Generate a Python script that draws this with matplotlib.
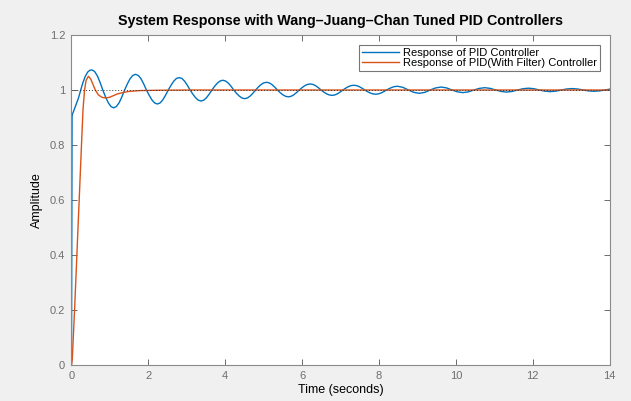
import matplotlib.pyplot as plt

# Response of PID controller
t_pid = [0.0, 0.015, 0.02, 0.1, 0.18, 0.24, 0.3, 0.36, 0.42, 0.48,
         0.530, 0.601, 0.672, 0.743, 0.814, 0.885, 0.956, 1.027,
         1.098, 1.169, 1.240, 1.311, 1.382, 1.453, 1.524, 1.595,
         1.666, 1.737, 1.808, 1.879, 1.950, 2.021, 2.092, 2.163,
         2.234, 2.305, 2.376, 2.447, 2.518, 2.589, 2.660, 2.731,
         2.802, 2.873, 2.944, 3.015, 3.086, 3.157, 3.228, 3.299,
         3.370, 3.441, 3.512, 3.583, 3.654, 3.725, 3.796, 3.867,
         3.938, 4.009, 4.080, 4.151, 4.222, 4.293, 4.364, 4.435,
         4.506, 4.577, 4.648, 4.719, 4.790, 4.861, 4.932, 5.003,
         5.074, 5.145, 5.216, 5.287, 5.358, 5.429, 5.500, 5.571,
         5.642, 5.713, 5.784, 5.855, 5.926, 5.997, 6.068, 6.139,
         6.210, 6.281, 6.352, 6.423, 6.494, 6.565, 6.636, 6.707,
         6.778, 6.849, 6.920, 6.991, 7.062, 7.133, 7.204, 7.275,
         7.346, 7.417, 7.488, 7.559, 7.630, 7.701, 7.772, 7.843,
         7.914, 7.985, 8.056, 8.127, 8.198, 8.269, 8.340, 8.411,
         8.482, 8.624, 8.766, 8.908, 9.050, 9.192, 9.334, 9.476,
         9.618, 9.760, 9.902, 10.044, 10.186, 10.328, 10.470, 10.612,
         10.754, 10.896, 11.038, 11.180, 11.322, 11.464, 11.606, 11.748,
         11.890, 12.032, 12.174, 12.316, 12.458, 12.600, 12.742, 12.884,
         13.026, 13.168, 13.310, 13.452, 13.594, 13.736, 13.878, 14.0]
y_pid = [0.0, 0.90, 0.91, 0.94, 0.97, 1.0, 1.028, 1.05, 1.065, 1.072,
         1.073, 1.0675, 1.0516, 1.028, 1.0, 0.975, 0.954, 0.940,
         0.935, 0.940, 0.954, 0.975, 1.0, 1.022, 1.041, 1.053,
         1.057, 1.053, 1.041, 1.022, 1.0, 0.981, 0.964, 0.953,
         0.949, 0.953, 0.964, 0.981, 1.0, 1.017, 1.032, 1.042,
         1.045, 1.042, 1.032, 1.017, 1.0, 0.985, 0.972, 0.963,
         0.960, 0.963, 0.972, 0.985, 1.0, 1.0136, 1.0251, 1.0328,
         1.0355, 1.0328, 1.0251, 1.0136, 1.0, 0.988, 0.978, 0.971,
         0.9685, 0.971, 0.978, 0.988, 1.0, 1.0107, 1.0198, 1.0259,
         1.028, 1.0259, 1.0198, 1.0107, 1.0, 0.9905, 0.9825, 0.9771,
         0.9752, 0.9771, 0.9825, 0.9905, 1.0, 1.0084, 1.0156, 1.0203,
         1.022, 1.0203, 1.0156, 1.0084, 1.0, 0.9925, 0.9862, 0.982,
         0.9805, 0.982, 0.9862, 0.9925, 1.0, 1.0066, 1.0122, 1.016,
         1.0173, 1.016, 1.0122, 1.0066, 1.0, 0.9941, 0.9892, 0.9859,
         0.9847, 0.9859, 0.9892, 0.9941, 1.0, 1.0052, 1.0096, 1.0126,
         1.0136, 1.0096, 1.0, 0.9914, 0.9879, 0.9914, 1.0, 1.0076,
         1.0107, 1.0076, 1.0, 0.9933, 0.9905, 0.9933, 1.0, 1.0059,
         1.0084, 1.0059, 1.0, 0.9947, 0.9925, 0.9947, 1.0, 1.0047,
         1.0066, 1.0047, 1.0, 0.9958, 0.9941, 0.9958, 1.0, 1.0037,
         1.0052, 1.0037, 1.0, 0.9967, 0.9954, 0.9967, 1.0, 1.003]

# Response of PID with filter
t_filt = [0.0, 0.02, 0.08, 0.14, 0.2, 0.26, 0.3, 0.34, 0.38, 0.44,
          0.5, 0.56, 0.62, 0.7, 0.8, 0.9, 1.0, 1.1, 1.2, 1.35,
          1.5, 1.8, 2.2, 3.0, 14.0]
y_filt = [0.0, 0.02, 0.2, 0.4, 0.6, 0.8, 0.93, 1.0, 1.035, 1.05,
          1.04, 1.02, 1.0, 0.982, 0.973, 0.971, 0.974, 0.98, 0.986, 0.991,
          0.995, 0.998, 0.999, 1.0, 1.0]

x_ticks = [0, 2, 4, 6, 8, 10, 12, 14]
y_ticks = [0, 0.2, 0.4, 0.6, 0.8, 1.0, 1.2]
y_ticklabels = ['0', '0.2', '0.4', '0.6', '0.8', '1', '1.2']

plt.rcParams['font.family'] = ['Liberation Sans', 'DejaVu Sans']

fig = plt.figure(figsize=(6.31, 4.01), dpi=100, facecolor='#f0f0f0')
ax = fig.add_axes([0.1133, 0.0898, 0.8527, 0.8229])

ax.plot(t_pid, y_pid, color='#0072BD', lw=1.0, label='Response of PID Controller')
ax.plot(t_filt, y_filt, color='#D95319', lw=1.0,
        label='Response of PID(With Filter) Controller')
ax.axhline(1.0, color='#333333', ls=(0, (1, 2)), lw=0.7)

ax.set_xlim(0, 14)
ax.set_ylim(0, 1.2)
ax.set_xticks(x_ticks)
ax.set_yticks(y_ticks)
ax.set_yticklabels(y_ticklabels)

gray = '#8a8a8a'
for s in ax.spines.values():
    s.set_color(gray)
    s.set_linewidth(0.8)
ax.tick_params(direction='in', length=4, width=0.6, color='#555555',
               labelcolor='#6e6e6e', labelsize=8, top=True, right=True, pad=4.5)

ax.set_title('System Response with Wang–Juang–Chan Tuned PID Controllers',
             fontsize=10.3, fontweight='bold', pad=7)
ax.set_xlabel('Time (seconds)', fontsize=9, labelpad=2)
ax.set_ylabel('Amplitude', fontsize=9, labelpad=5)

leg = ax.legend(loc='upper right', fontsize=8, frameon=True, fancybox=False,
                handlelength=3.4, handletextpad=0.3, borderpad=0.25,
                labelspacing=0.05, borderaxespad=0.9)
leg.get_frame().set_edgecolor('#555555')
leg.get_frame().set_linewidth(0.8)

fig.savefig('out.png', dpi=100, facecolor=fig.get_facecolor())
